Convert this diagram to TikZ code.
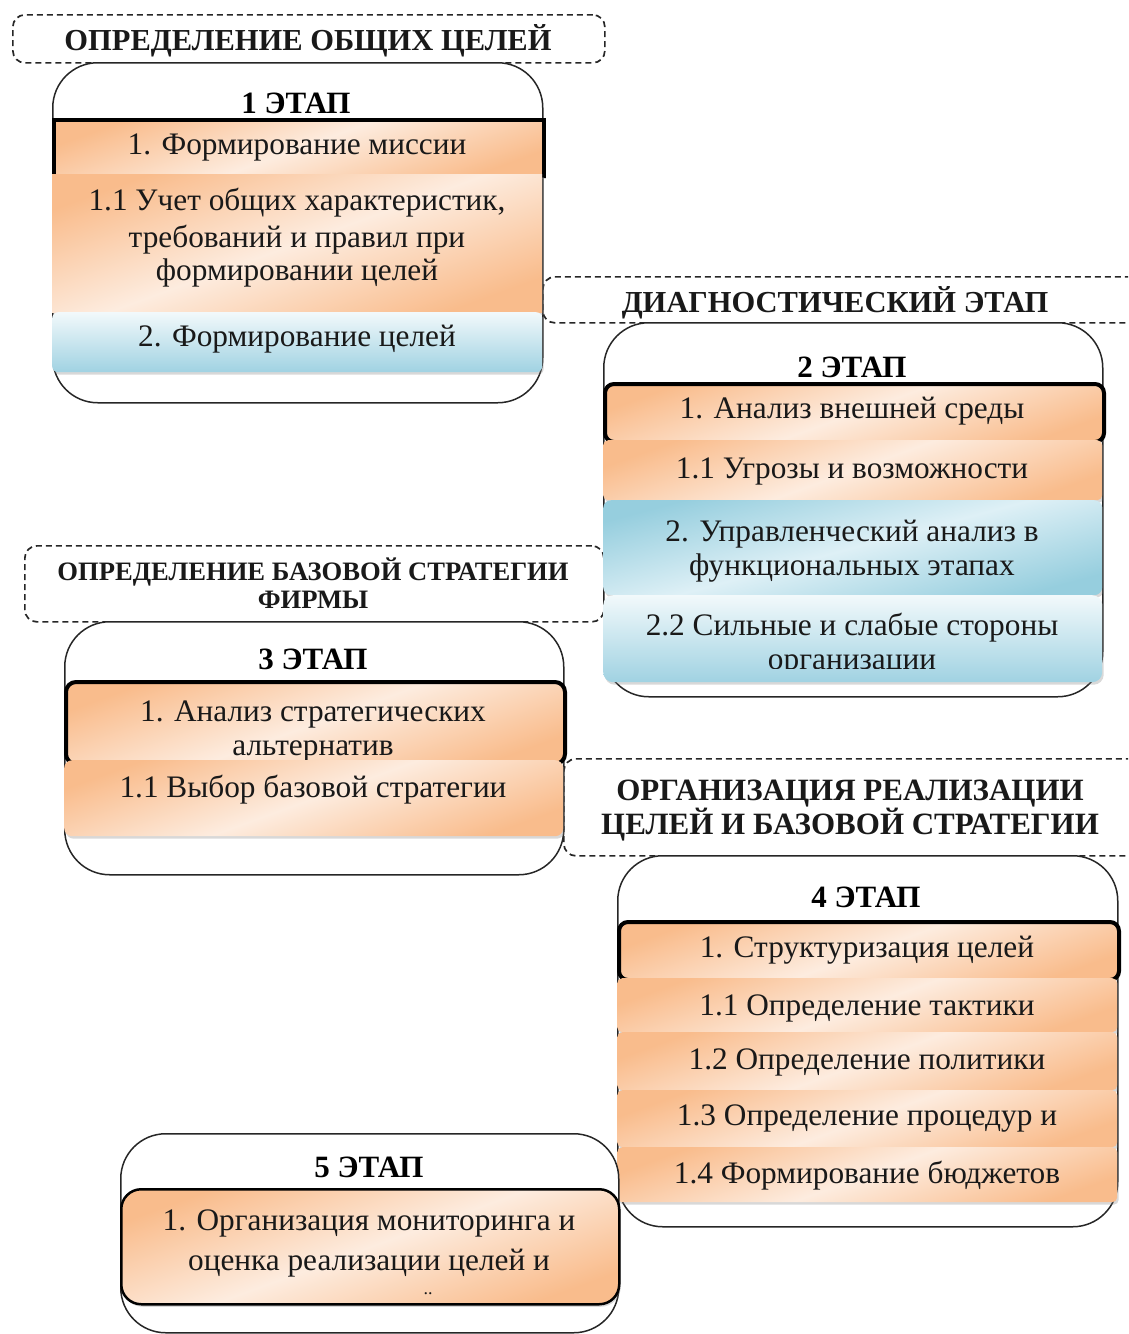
\documentclass[tikz,border=0pt]{standalone}
\usepackage{fontspec}
\setmainfont{Liberation Serif}
\usetikzlibrary{shadows}
\definecolor{oD}{RGB}{249,188,140}
\definecolor{oL}{RGB}{253,236,223}
\definecolor{bD}{RGB}{160,210,226}
\definecolor{bM}{RGB}{150,206,222}
\definecolor{bL}{RGB}{242,249,251}
\definecolor{bX}{RGB}{222,240,246}
\tikzset{
  hdr/.style={draw=black!85, dash pattern=on 6pt off 4pt, line width=1.7pt, rounded corners=12pt, anchor=north west, inner sep=0pt},
  htxt/.style={font=\fontsize{30.5}{32}\selectfont\bfseries, anchor=base, inner sep=0pt, text=black!90},
  htxtb/.style={font=\fontsize{31}{33}\selectfont\bfseries, anchor=base, inner sep=0pt, text=black!90},
  htxts/.style={font=\fontsize{26.6}{28}\selectfont\bfseries, anchor=base, inner sep=0pt, text=black!90},
  stagebox/.style={draw=black!85, line width=1.5pt, fill=white, rounded corners=45pt, anchor=north west, inner sep=0pt},
  stlab/.style={font=\fontsize{31}{33}\selectfont\bfseries, anchor=base, inner sep=0pt},
  tx/.style={font=\fontsize{31.3}{33}\selectfont, anchor=base, inner sep=0pt, text=black!90},
  shd/.style={drop shadow={opacity=0.3, shadow xshift=1.5pt, shadow yshift=-2.5pt}},
  obox/.style={top color=oD, bottom color=oD, middle color=oL, shading angle=20, anchor=north west, inner sep=0pt, rounded corners=5pt, shd},
  thickbox/.style={obox, draw=black, line width=4pt},
  lbbox/.style={top color=bL, bottom color=bD, anchor=north west, inner sep=0pt, rounded corners=6pt, shd},
  dbbox/.style={top color=bM, bottom color=bM, middle color=bX, shading angle=15, anchor=north west, inner sep=0pt, rounded corners=8pt, shd},
}
\begin{document}
\begin{tikzpicture}[x=1pt,y=-1pt]
\useasboundingbox (0,0) rectangle (1128,1334);
\clip (0,0) rectangle (1128,1334);

% ---------- headers ----------
\node[hdr, minimum width=592pt, minimum height=48pt] (h1) at (12,14) {};
\node[htxt] (h1t) at (308,50) {ОПРЕДЕЛЕНИЕ ОБЩИХ ЦЕЛЕЙ};

\node[hdr, minimum width=620pt, minimum height=46pt] (h2) at (542,276) {};
\node[htxt] (h2t) at (835,312) {ДИАГНОСТИЧЕСКИЙ ЭТАП};

\node[hdr, minimum width=579pt, minimum height=76pt] (h3) at (24,545) {};
\node[htxts] (h3a) at (313,580) {ОПРЕДЕЛЕНИЕ БАЗОВОЙ СТРАТЕГИИ};
\node[htxts] (h3b) at (313,608) {ФИРМЫ};

\node[hdr, minimum width=600pt, minimum height=97pt] (h4) at (563,758) {};
\node[htxtb] (h4a) at (850,800) {ОРГАНИЗАЦИЯ РЕАЛИЗАЦИИ};
\node[htxtb] (h4b) at (850,834) {ЦЕЛЕЙ И БАЗОВОЙ СТРАТЕГИИ};

% ---------- stage 1 ----------
\node[stagebox, minimum width=490pt, minimum height=340pt] (s1) at (52,62) {};
\node[stlab] (s1l) at (296,113) {1 ЭТАП};
\node[thickbox, rounded corners=0pt, minimum width=490pt, minimum height=56pt] (b11) at (52,118) {};
\node[tx] (b11t) at (297,154) {1. Формирование миссии};
\node[obox, rounded corners=0pt, minimum width=490pt, minimum height=138pt] (b12) at (52,174) {};
\node[tx] (b12a) at (297,210) {1.1 Учет общих характеристик,};
\node[tx] (b12b) at (297,247) {требований и правил при};
\node[tx] (b12c) at (297,280) {формировании целей};
\node[lbbox, minimum width=490pt, minimum height=60pt] (b13) at (52,312) {};
\node[tx] (b13t) at (297,346) {2. Формирование целей};

% ---------- stage 2 ----------
\node[stagebox, minimum width=499pt, minimum height=374pt] (s2) at (603,322) {};
\node[stlab] (s2l) at (852,377) {2 ЭТАП};
\node[thickbox, rounded corners=9pt, minimum width=499pt, minimum height=58pt] (b21) at (603,382) {};
\node[tx] (b21t) at (852,418) {1. Анализ внешней среды};
\node[obox, minimum width=499pt, minimum height=60pt] (b22) at (603,440) {};
\node[tx] (b22t) at (852,478) {1.1 Угрозы и возможности};
\node[dbbox, minimum width=499pt, minimum height=95pt] (b23) at (603,500) {};
\node[tx] (b23a) at (852,541) {2. Управленческий анализ в};
\node[tx] (b23b) at (852,575) {функциональных этапах};
\node[lbbox, rounded corners=10pt, minimum width=499pt, minimum height=87pt] (b24) at (603,595) {};
\node[tx] (b24a) at (852,635) {2.2 Сильные и слабые стороны};
\begin{scope}
\clip (603,595) rectangle (1102,668);
\node[tx] (b24b) at (852,669) {организации};
\end{scope}

% ---------- stage 3 ----------
\node[stagebox, minimum width=499pt, minimum height=253pt] (s3) at (64,621) {};
\node[stlab] (s3l) at (313,669) {3 ЭТАП};
\node[thickbox, rounded corners=10pt, minimum width=499pt, minimum height=82pt] (b31) at (64,680) {};
\node[tx] (b31a) at (313,721) {1. Анализ стратегических};
\node[tx] (b31b) at (313,755) {альтернатив};
\node[obox, rounded corners=8pt, minimum width=499pt, minimum height=76pt] (b32) at (64,760) {};
\node[tx] (b32t) at (313,797) {1.1 Выбор базовой стратегии};

% ---------- stage 4 ----------
\node[stagebox, minimum width=500pt, minimum height=371pt] (s4) at (617,855) {};
\node[stlab] (s4l) at (866,907) {4 ЭТАП};
\node[thickbox, rounded corners=9pt, minimum width=500pt, minimum height=58pt] (b41) at (617,920) {};
\node[tx] (b41t) at (867,957) {1. Структуризация целей};
\node[obox, minimum width=500pt, minimum height=54pt] (b42) at (617,978) {};
\node[tx] (b42t) at (867,1015) {1.1 Определение тактики};
\node[obox, minimum width=500pt, minimum height=58pt] (b43) at (617,1032) {};
\node[tx] (b43t) at (867,1069) {1.2 Определение политики};
\node[obox, minimum width=500pt, minimum height=57pt] (b44) at (617,1090) {};
\node[tx] (b44t) at (867,1125) {1.3 Определение процедур и};
\node[obox, minimum width=500pt, minimum height=55pt] (b45) at (617,1147) {};
\node[tx] (b45t) at (867,1183) {1.4 Формирование бюджетов};

% ---------- stage 5 ----------
\node[stagebox, minimum width=498pt, minimum height=199pt] (s5) at (120,1133) {};
\node[stlab] (s5l) at (369,1177) {5 ЭТАП};
\node[obox, draw=black, line width=2.5pt, rounded corners=20pt, minimum width=498pt, minimum height=115pt] (b51) at (120,1188) {};
\node[tx] (b51a) at (369,1230) {1. Организация мониторинга и};
\node[tx] (b51b) at (369,1270) {оценка реализации целей и};
\node[tx, font=\fontsize{18}{20}\selectfont, text height=3pt, text depth=0pt] (b51c) at (428,1294) {..};
\end{tikzpicture}
\end{document}
